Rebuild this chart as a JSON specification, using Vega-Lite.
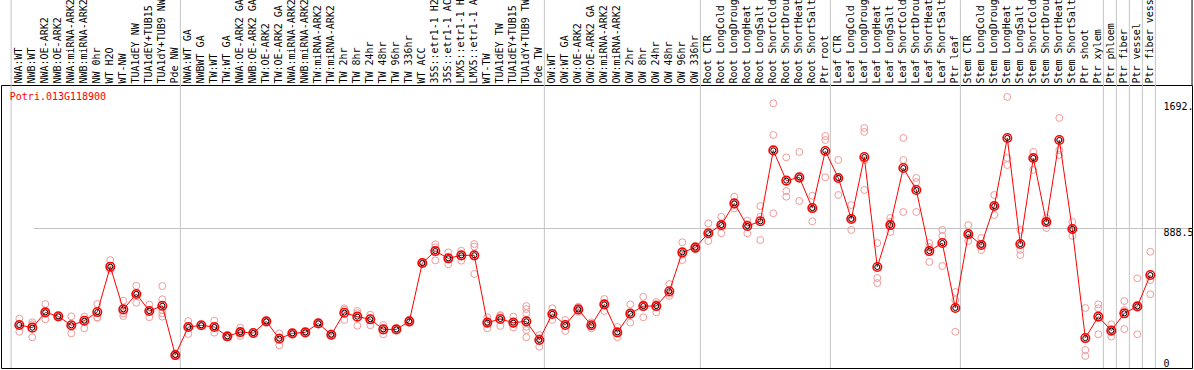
{
  "$schema": "https://vega.github.io/schema/vega-lite/v6.json",
  "width": 1191,
  "height": 283,
  "autosize": {"type": "none"},
  "padding": {"left": 1, "top": 85, "right": 2, "bottom": 2},
  "background": "white",
  "config": {"view": {"stroke": "black", "strokeWidth": 1}, "font": "DejaVu Sans Mono"},
  "datasets": {
    "cats": [{"c": "NWA:WT"}],
    "last": [{"c": "Ptr fiber vessel"}],
    "seps": [{"c": "Pde NW"}, {"c": "Pde TW"}, {"c": "OW 336hr"}, {"c": "Ptr root"}, {"c": "Ptr leaf"}, {"c": "Ptr xylem"}, {"c": "Ptr phloem"}, {"c": "Ptr fiber"}, {"c": "Ptr vessel"}, {"c": "Ptr fiber vessel"}],
    "means": [
      {"c": "NWA:WT", "v": 273}, {"c": "NWB:WT", "v": 256}, {"c": "NWA:OE-ARK2", "v": 353}, {"c": "NWB:OE-ARK2", "v": 328},
      {"c": "NWA:miRNA-ARK2", "v": 271}, {"c": "NWB:miRNA-ARK2", "v": 300}, {"c": "NW 0hr", "v": 355}, {"c": "WT H2O", "v": 643},
      {"c": "WT-NW", "v": 372}, {"c": "TUA1dEY NW", "v": 470}, {"c": "TUA1dEY+TUB15 NW", "v": 362}, {"c": "TUA1dY+TUB9 NW", "v": 395},
      {"c": "Pde NW", "v": 82}, {"c": "NWA:WT GA", "v": 260}, {"c": "NWBWT GA", "v": 271}, {"c": "TW:WT", "v": 260},
      {"c": "TW:WT GA", "v": 201}, {"c": "NWA:OE-ARK2 GA", "v": 228}, {"c": "NWB:OE-ARK2 GA", "v": 222}, {"c": "TW:OE-ARK2", "v": 296},
      {"c": "TW:OE-ARK2 GA", "v": 186}, {"c": "NWA:miRNA-ARK2 GA", "v": 220}, {"c": "NWB:miRNA-ARK2 GA", "v": 226}, {"c": "TW:miRNA-ARK2", "v": 283},
      {"c": "TW:miRNA-ARK2 GA", "v": 211}, {"c": "TW 2hr", "v": 351}, {"c": "TW 8hr", "v": 326}, {"c": "TW 24hr", "v": 309},
      {"c": "TW 48hr", "v": 245}, {"c": "TW 96hr", "v": 245}, {"c": "TW 336hr", "v": 296}, {"c": "WT ACC", "v": 666},
      {"c": "35S::etr1-1 H2O", "v": 742}, {"c": "35S::etr1-1 ACC", "v": 696}, {"c": "LMX5::etr1-1 H2O", "v": 715}, {"c": "LMX5::etr1-1 ACC", "v": 715},
      {"c": "WT-TW", "v": 288}, {"c": "TUA1dEY TW", "v": 311}, {"c": "TUA1dEY+TUB15 TW", "v": 288}, {"c": "TUA1dY+TUB9 TW", "v": 296},
      {"c": "Pde TW", "v": 178}, {"c": "OW:WT", "v": 343}, {"c": "OW:WT GA", "v": 273}, {"c": "OW:OE-ARK2", "v": 372},
      {"c": "OW:OE-ARK2 GA", "v": 271}, {"c": "OW:miRNA-ARK2", "v": 404}, {"c": "OW:miRNA-ARK2 GA", "v": 226}, {"c": "OW 2hr", "v": 345},
      {"c": "OW 8hr", "v": 393}, {"c": "OW 24hr", "v": 393}, {"c": "OW 48hr", "v": 487}, {"c": "OW 96hr", "v": 734},
      {"c": "OW 336hr", "v": 764}, {"c": "Root CTR", "v": 855}, {"c": "Root LongCold", "v": 907}, {"c": "Root LongDrought", "v": 1045},
      {"c": "Root LongHeat", "v": 901}, {"c": "Root LongSalt", "v": 931}, {"c": "Root ShortCold", "v": 1381}, {"c": "Root ShortDrought", "v": 1189},
      {"c": "Root ShortHeat", "v": 1210}, {"c": "Root ShortSalt", "v": 1015}, {"c": "Ptr root", "v": 1377}, {"c": "Leaf CTR", "v": 1206},
      {"c": "Leaf LongCold", "v": 946}, {"c": "Leaf LongDrought", "v": 1339}, {"c": "Leaf LongHeat", "v": 641}, {"c": "Leaf LongSalt", "v": 907},
      {"c": "Leaf ShortCold", "v": 1269}, {"c": "Leaf ShortDrought", "v": 1130}, {"c": "Leaf ShortHeat", "v": 742}, {"c": "Leaf ShortSalt", "v": 793},
      {"c": "Ptr leaf", "v": 381}, {"c": "Stem CTR", "v": 850}, {"c": "Stem LongCold", "v": 781}, {"c": "Stem LongDrought", "v": 1028},
      {"c": "Stem LongHeat", "v": 1460}, {"c": "Stem LongSalt", "v": 787}, {"c": "Stem ShortCold", "v": 1333}, {"c": "Stem ShortDrought", "v": 927},
      {"c": "Stem ShortHeat", "v": 1447}, {"c": "Stem ShortSalt", "v": 882}, {"c": "Ptr shoot", "v": 190}, {"c": "Ptr xylem", "v": 326},
      {"c": "Ptr phloem", "v": 237}, {"c": "Ptr fiber", "v": 347}, {"c": "Ptr vessel", "v": 391}, {"c": "Ptr fiber vessel", "v": 590}
    ],
    "reps": [
      {"c": "NWA:WT", "v": 313}, {"c": "NWA:WT", "v": 275}, {"c": "NWA:WT", "v": 230},
      {"c": "NWB:WT", "v": 290}, {"c": "NWB:WT", "v": 277}, {"c": "NWB:WT", "v": 195},
      {"c": "NWA:OE-ARK2", "v": 406}, {"c": "NWA:OE-ARK2", "v": 353}, {"c": "NWA:OE-ARK2", "v": 309},
      {"c": "NWB:OE-ARK2", "v": 332}, {"c": "NWB:OE-ARK2", "v": 325}, {"c": "NWB:OE-ARK2", "v": 328},
      {"c": "NWA:miRNA-ARK2", "v": 328}, {"c": "NWA:miRNA-ARK2", "v": 265}, {"c": "NWA:miRNA-ARK2", "v": 220},
      {"c": "NWB:miRNA-ARK2", "v": 326}, {"c": "NWB:miRNA-ARK2", "v": 305}, {"c": "NWB:miRNA-ARK2", "v": 252},
      {"c": "NW 0hr", "v": 406}, {"c": "NW 0hr", "v": 322}, {"c": "NW 0hr", "v": 318},
      {"c": "WT H2O", "v": 685}, {"c": "WT H2O", "v": 633}, {"c": "WT H2O", "v": 622},
      {"c": "WT-NW", "v": 427}, {"c": "WT-NW", "v": 347}, {"c": "WT-NW", "v": 330},
      {"c": "TUA1dEY NW", "v": 522}, {"c": "TUA1dEY NW", "v": 470}, {"c": "TUA1dEY NW", "v": 414},
      {"c": "TUA1dEY+TUB15 NW", "v": 402}, {"c": "TUA1dEY+TUB15 NW", "v": 362}, {"c": "TUA1dEY+TUB15 NW", "v": 322},
      {"c": "TUA1dY+TUB9 NW", "v": 520}, {"c": "TUA1dY+TUB9 NW", "v": 436}, {"c": "TUA1dY+TUB9 NW", "v": 368}, {"c": "TUA1dY+TUB9 NW", "v": 347}, {"c": "TUA1dY+TUB9 NW", "v": 326},
      {"c": "Pde NW", "v": 93}, {"c": "Pde NW", "v": 76}, {"c": "Pde NW", "v": 80},
      {"c": "NWA:WT GA", "v": 298}, {"c": "NWA:WT GA", "v": 260}, {"c": "NWA:WT GA", "v": 216},
      {"c": "NWBWT GA", "v": 271}, {"c": "NWBWT GA", "v": 268}, {"c": "NWBWT GA", "v": 275},
      {"c": "TW:WT", "v": 300}, {"c": "TW:WT", "v": 260}, {"c": "TW:WT", "v": 224},
      {"c": "TW:WT GA", "v": 201}, {"c": "TW:WT GA", "v": 198}, {"c": "TW:WT GA", "v": 205},
      {"c": "NWA:OE-ARK2 GA", "v": 256}, {"c": "NWA:OE-ARK2 GA", "v": 228}, {"c": "NWA:OE-ARK2 GA", "v": 203},
      {"c": "NWB:OE-ARK2 GA", "v": 222}, {"c": "NWB:OE-ARK2 GA", "v": 218}, {"c": "NWB:OE-ARK2 GA", "v": 227},
      {"c": "TW:OE-ARK2", "v": 296}, {"c": "TW:OE-ARK2", "v": 292}, {"c": "TW:OE-ARK2", "v": 300},
      {"c": "TW:OE-ARK2 GA", "v": 220}, {"c": "TW:OE-ARK2 GA", "v": 194}, {"c": "TW:OE-ARK2 GA", "v": 144},
      {"c": "NWA:miRNA-ARK2 GA", "v": 220}, {"c": "NWA:miRNA-ARK2 GA", "v": 216}, {"c": "NWA:miRNA-ARK2 GA", "v": 225},
      {"c": "NWB:miRNA-ARK2 GA", "v": 226}, {"c": "NWB:miRNA-ARK2 GA", "v": 222}, {"c": "NWB:miRNA-ARK2 GA", "v": 230},
      {"c": "TW:miRNA-ARK2", "v": 283}, {"c": "TW:miRNA-ARK2", "v": 280}, {"c": "TW:miRNA-ARK2", "v": 287},
      {"c": "TW:miRNA-ARK2 GA", "v": 220}, {"c": "TW:miRNA-ARK2 GA", "v": 211}, {"c": "TW:miRNA-ARK2 GA", "v": 203},
      {"c": "TW 2hr", "v": 379}, {"c": "TW 2hr", "v": 369}, {"c": "TW 2hr", "v": 305},
      {"c": "TW 8hr", "v": 362}, {"c": "TW 8hr", "v": 348}, {"c": "TW 8hr", "v": 268},
      {"c": "TW 24hr", "v": 338}, {"c": "TW 24hr", "v": 318}, {"c": "TW 24hr", "v": 271},
      {"c": "TW 48hr", "v": 273}, {"c": "TW 48hr", "v": 248}, {"c": "TW 48hr", "v": 214},
      {"c": "TW 96hr", "v": 245}, {"c": "TW 96hr", "v": 242}, {"c": "TW 96hr", "v": 249},
      {"c": "TW 336hr", "v": 305}, {"c": "TW 336hr", "v": 296}, {"c": "TW 336hr", "v": 287},
      {"c": "WT ACC", "v": 666}, {"c": "WT ACC", "v": 662}, {"c": "WT ACC", "v": 670},
      {"c": "35S::etr1-1 H2O", "v": 785}, {"c": "35S::etr1-1 H2O", "v": 766}, {"c": "35S::etr1-1 H2O", "v": 683},
      {"c": "35S::etr1-1 ACC", "v": 734}, {"c": "35S::etr1-1 ACC", "v": 696}, {"c": "35S::etr1-1 ACC", "v": 658},
      {"c": "LMX5::etr1-1 H2O", "v": 744}, {"c": "LMX5::etr1-1 H2O", "v": 720}, {"c": "LMX5::etr1-1 H2O", "v": 681},
      {"c": "LMX5::etr1-1 ACC", "v": 787}, {"c": "LMX5::etr1-1 ACC", "v": 770}, {"c": "LMX5::etr1-1 ACC", "v": 597},
      {"c": "WT-TW", "v": 322}, {"c": "WT-TW", "v": 290}, {"c": "WT-TW", "v": 252},
      {"c": "TUA1dEY TW", "v": 336}, {"c": "TUA1dEY TW", "v": 330}, {"c": "TUA1dEY TW", "v": 267},
      {"c": "TUA1dEY+TUB15 TW", "v": 326}, {"c": "TUA1dEY+TUB15 TW", "v": 280}, {"c": "TUA1dEY+TUB15 TW", "v": 258},
      {"c": "TUA1dY+TUB9 TW", "v": 393}, {"c": "TUA1dY+TUB9 TW", "v": 374}, {"c": "TUA1dY+TUB9 TW", "v": 347}, {"c": "TUA1dY+TUB9 TW", "v": 262}, {"c": "TUA1dY+TUB9 TW", "v": 241}, {"c": "TUA1dY+TUB9 TW", "v": 195},
      {"c": "Pde TW", "v": 209}, {"c": "Pde TW", "v": 190}, {"c": "Pde TW", "v": 135},
      {"c": "OW:WT", "v": 379}, {"c": "OW:WT", "v": 345}, {"c": "OW:WT", "v": 305},
      {"c": "OW:WT GA", "v": 305}, {"c": "OW:WT GA", "v": 278}, {"c": "OW:WT GA", "v": 235},
      {"c": "OW:OE-ARK2", "v": 389}, {"c": "OW:OE-ARK2", "v": 372}, {"c": "OW:OE-ARK2", "v": 357},
      {"c": "OW:OE-ARK2 GA", "v": 290}, {"c": "OW:OE-ARK2 GA", "v": 271}, {"c": "OW:OE-ARK2 GA", "v": 252},
      {"c": "OW:miRNA-ARK2", "v": 438}, {"c": "OW:miRNA-ARK2", "v": 410}, {"c": "OW:miRNA-ARK2", "v": 362},
      {"c": "OW:miRNA-ARK2 GA", "v": 260}, {"c": "OW:miRNA-ARK2 GA", "v": 223}, {"c": "OW:miRNA-ARK2 GA", "v": 195},
      {"c": "OW 2hr", "v": 404}, {"c": "OW 2hr", "v": 343}, {"c": "OW 2hr", "v": 288},
      {"c": "OW 8hr", "v": 452}, {"c": "OW 8hr", "v": 405}, {"c": "OW 8hr", "v": 322},
      {"c": "OW 24hr", "v": 419}, {"c": "OW 24hr", "v": 407}, {"c": "OW 24hr", "v": 353},
      {"c": "OW 48hr", "v": 533}, {"c": "OW 48hr", "v": 471}, {"c": "OW 48hr", "v": 457},
      {"c": "OW 96hr", "v": 798}, {"c": "OW 96hr", "v": 719}, {"c": "OW 96hr", "v": 685},
      {"c": "OW 336hr", "v": 775}, {"c": "OW 336hr", "v": 764}, {"c": "OW 336hr", "v": 753},
      {"c": "Root CTR", "v": 918}, {"c": "Root CTR", "v": 855}, {"c": "Root CTR", "v": 806},
      {"c": "Root LongCold", "v": 960}, {"c": "Root LongCold", "v": 907}, {"c": "Root LongCold", "v": 855},
      {"c": "Root LongDrought", "v": 1087}, {"c": "Root LongDrought", "v": 1035}, {"c": "Root LongDrought", "v": 1013},
      {"c": "Root LongHeat", "v": 935}, {"c": "Root LongHeat", "v": 913}, {"c": "Root LongHeat", "v": 855},
      {"c": "Root LongSalt", "v": 1028}, {"c": "Root LongSalt", "v": 960}, {"c": "Root LongSalt", "v": 812},
      {"c": "Root ShortCold", "v": 1680}, {"c": "Root ShortCold", "v": 1479}, {"c": "Root ShortCold", "v": 982},
      {"c": "Root ShortDrought", "v": 1337}, {"c": "Root ShortDrought", "v": 1123}, {"c": "Root ShortDrought", "v": 1087},
      {"c": "Root ShortHeat", "v": 1371}, {"c": "Root ShortHeat", "v": 1200}, {"c": "Root ShortHeat", "v": 1060},
      {"c": "Root ShortSalt", "v": 1093}, {"c": "Root ShortSalt", "v": 1021}, {"c": "Root ShortSalt", "v": 931},
      {"c": "Ptr root", "v": 1472}, {"c": "Ptr root", "v": 1447}, {"c": "Ptr root", "v": 1210},
      {"c": "Leaf CTR", "v": 1320}, {"c": "Leaf CTR", "v": 1206}, {"c": "Leaf CTR", "v": 1098},
      {"c": "Leaf LongCold", "v": 1034}, {"c": "Leaf LongCold", "v": 946}, {"c": "Leaf LongCold", "v": 876},
      {"c": "Leaf LongDrought", "v": 1523}, {"c": "Leaf LongDrought", "v": 1498}, {"c": "Leaf LongDrought", "v": 1320}, {"c": "Leaf LongDrought", "v": 1130},
      {"c": "Leaf LongHeat", "v": 793}, {"c": "Leaf LongHeat", "v": 571}, {"c": "Leaf LongHeat", "v": 539},
      {"c": "Leaf LongSalt", "v": 952}, {"c": "Leaf LongSalt", "v": 927}, {"c": "Leaf LongSalt", "v": 863},
      {"c": "Leaf ShortCold", "v": 1460}, {"c": "Leaf ShortCold", "v": 1320}, {"c": "Leaf ShortCold", "v": 990},
      {"c": "Leaf ShortDrought", "v": 1206}, {"c": "Leaf ShortDrought", "v": 1180}, {"c": "Leaf ShortDrought", "v": 990},
      {"c": "Leaf ShortHeat", "v": 793}, {"c": "Leaf ShortHeat", "v": 768}, {"c": "Leaf ShortHeat", "v": 673},
      {"c": "Leaf ShortSalt", "v": 876}, {"c": "Leaf ShortSalt", "v": 838}, {"c": "Leaf ShortSalt", "v": 647},
      {"c": "Ptr leaf", "v": 482}, {"c": "Ptr leaf", "v": 432}, {"c": "Ptr leaf", "v": 230},
      {"c": "Stem CTR", "v": 907}, {"c": "Stem CTR", "v": 850}, {"c": "Stem CTR", "v": 806},
      {"c": "Stem LongCold", "v": 825}, {"c": "Stem LongCold", "v": 781}, {"c": "Stem LongCold", "v": 749},
      {"c": "Stem LongDrought", "v": 1098}, {"c": "Stem LongDrought", "v": 1028}, {"c": "Stem LongDrought", "v": 971},
      {"c": "Stem LongHeat", "v": 1720}, {"c": "Stem LongHeat", "v": 1333}, {"c": "Stem LongHeat", "v": 1288},
      {"c": "Stem LongSalt", "v": 876}, {"c": "Stem LongSalt", "v": 749}, {"c": "Stem LongSalt", "v": 717},
      {"c": "Stem ShortCold", "v": 1371}, {"c": "Stem ShortCold", "v": 1333}, {"c": "Stem ShortCold", "v": 1257},
      {"c": "Stem ShortDrought", "v": 952}, {"c": "Stem ShortDrought", "v": 927}, {"c": "Stem ShortDrought", "v": 888},
      {"c": "Stem ShortHeat", "v": 1587}, {"c": "Stem ShortHeat", "v": 1383}, {"c": "Stem ShortHeat", "v": 1352},
      {"c": "Stem ShortSalt", "v": 927}, {"c": "Stem ShortSalt", "v": 882}, {"c": "Stem ShortSalt", "v": 838},
      {"c": "Ptr shoot", "v": 381}, {"c": "Ptr shoot", "v": 114}, {"c": "Ptr shoot", "v": 76},
      {"c": "Ptr xylem", "v": 404}, {"c": "Ptr xylem", "v": 379}, {"c": "Ptr xylem", "v": 214},
      {"c": "Ptr phloem", "v": 277}, {"c": "Ptr phloem", "v": 235}, {"c": "Ptr phloem", "v": 199},
      {"c": "Ptr fiber", "v": 425}, {"c": "Ptr fiber", "v": 368}, {"c": "Ptr fiber", "v": 247},
      {"c": "Ptr vessel", "v": 569}, {"c": "Ptr vessel", "v": 391}, {"c": "Ptr vessel", "v": 214},
      {"c": "Ptr fiber vessel", "v": 738}, {"c": "Ptr fiber vessel", "v": 558}, {"c": "Ptr fiber vessel", "v": 468}
    ]
  },
  "layer": [
    {
      "data": {"name": "reps"},
      "mark": {"type": "point", "shape": "circle", "filled": false, "color": "#f09a9a", "strokeWidth": 1, "size": 48, "opacity": 1},
      "encoding": {
        "x": {"field": "c", "type": "nominal", "sort": null,
          "scale": {"domain": ["NWA:WT","NWB:WT","NWA:OE-ARK2","NWB:OE-ARK2","NWA:miRNA-ARK2","NWB:miRNA-ARK2","NW 0hr","WT H2O","WT-NW","TUA1dEY NW","TUA1dEY+TUB15 NW","TUA1dY+TUB9 NW","Pde NW","NWA:WT GA","NWBWT GA","TW:WT","TW:WT GA","NWA:OE-ARK2 GA","NWB:OE-ARK2 GA","TW:OE-ARK2","TW:OE-ARK2 GA","NWA:miRNA-ARK2 GA","NWB:miRNA-ARK2 GA","TW:miRNA-ARK2","TW:miRNA-ARK2 GA","TW 2hr","TW 8hr","TW 24hr","TW 48hr","TW 96hr","TW 336hr","WT ACC","35S::etr1-1 H2O","35S::etr1-1 ACC","LMX5::etr1-1 H2O","LMX5::etr1-1 ACC","WT-TW","TUA1dEY TW","TUA1dEY+TUB15 TW","TUA1dY+TUB9 TW","Pde TW","OW:WT","OW:WT GA","OW:OE-ARK2","OW:OE-ARK2 GA","OW:miRNA-ARK2","OW:miRNA-ARK2 GA","OW 2hr","OW 8hr","OW 24hr","OW 48hr","OW 96hr","OW 336hr","Root CTR","Root LongCold","Root LongDrought","Root LongHeat","Root LongSalt","Root ShortCold","Root ShortDrought","Root ShortHeat","Root ShortSalt","Ptr root","Leaf CTR","Leaf LongCold","Leaf LongDrought","Leaf LongHeat","Leaf LongSalt","Leaf ShortCold","Leaf ShortDrought","Leaf ShortHeat","Leaf ShortSalt","Ptr leaf","Stem CTR","Stem LongCold","Stem LongDrought","Stem LongHeat","Stem LongSalt","Stem ShortCold","Stem ShortDrought","Stem ShortHeat","Stem ShortSalt","Ptr shoot","Ptr xylem","Ptr phloem","Ptr fiber","Ptr vessel","Ptr fiber vessel"], "range": [0, 1159], "paddingInner": 0, "paddingOuter": 0.5769, "align": 0.787},
          "axis": {"orient": "top", "title": null, "domain": false, "ticks": false, "tickSize": 0, "grid": false, "labelAngle": -90, "labelAlign": "left", "labelBaseline": "middle", "labelFont": "DejaVu Sans Mono", "labelFontSize": 10, "labelColor": "black", "labelPadding": 2, "labelOffset": 0, "labelOverlap": false, "labelBound": false, "labelLimit": 300, "labelExpr": "substring(datum.label, 0, 14)"}},
        "y": {"field": "v", "type": "quantitative", "scale": {"domain": [0, 1796], "nice": false, "zero": false},
          "axis": {"orient": "right", "title": null, "values": [0, 888.5, 1692], "domain": false, "ticks": false, "tickSize": 0, "grid": true, "gridColor": "#c4c4c4", "gridWidth": 1, "gridOpacity": {"condition": {"test": "datum.value == 888.5", "value": 1}, "value": 0}, "labelExpr": "datum.value == 1692 ? '1692.' : (datum.value == 888.5 ? '888.5' : '0')", "labelFont": "DejaVu Sans Mono", "labelFontSize": 10, "labelColor": "black", "labelAlign": "left", "labelBaseline": {"condition": {"test": "datum.value == 0", "value": "bottom"}, "value": "top"}, "labelPadding": 1, "offset": -30}}
      }
    },
    {
      "data": {"name": "seps"},
      "mark": {"type": "rule", "color": "#c4c4c4", "strokeWidth": 1, "clip": false},
      "encoding": {
        "x": {"field": "c", "type": "nominal", "sort": null, "bandPosition": 0.89,
          "scale": {"domain": ["NWA:WT","NWB:WT","NWA:OE-ARK2","NWB:OE-ARK2","NWA:miRNA-ARK2","NWB:miRNA-ARK2","NW 0hr","WT H2O","WT-NW","TUA1dEY NW","TUA1dEY+TUB15 NW","TUA1dY+TUB9 NW","Pde NW","NWA:WT GA","NWBWT GA","TW:WT","TW:WT GA","NWA:OE-ARK2 GA","NWB:OE-ARK2 GA","TW:OE-ARK2","TW:OE-ARK2 GA","NWA:miRNA-ARK2 GA","NWB:miRNA-ARK2 GA","TW:miRNA-ARK2","TW:miRNA-ARK2 GA","TW 2hr","TW 8hr","TW 24hr","TW 48hr","TW 96hr","TW 336hr","WT ACC","35S::etr1-1 H2O","35S::etr1-1 ACC","LMX5::etr1-1 H2O","LMX5::etr1-1 ACC","WT-TW","TUA1dEY TW","TUA1dEY+TUB15 TW","TUA1dY+TUB9 TW","Pde TW","OW:WT","OW:WT GA","OW:OE-ARK2","OW:OE-ARK2 GA","OW:miRNA-ARK2","OW:miRNA-ARK2 GA","OW 2hr","OW 8hr","OW 24hr","OW 48hr","OW 96hr","OW 336hr","Root CTR","Root LongCold","Root LongDrought","Root LongHeat","Root LongSalt","Root ShortCold","Root ShortDrought","Root ShortHeat","Root ShortSalt","Ptr root","Leaf CTR","Leaf LongCold","Leaf LongDrought","Leaf LongHeat","Leaf LongSalt","Leaf ShortCold","Leaf ShortDrought","Leaf ShortHeat","Leaf ShortSalt","Ptr leaf","Stem CTR","Stem LongCold","Stem LongDrought","Stem LongHeat","Stem LongSalt","Stem ShortCold","Stem ShortDrought","Stem ShortHeat","Stem ShortSalt","Ptr shoot","Ptr xylem","Ptr phloem","Ptr fiber","Ptr vessel","Ptr fiber vessel"], "range": [0, 1159], "paddingInner": 0, "paddingOuter": 0.5769, "align": 0.787}},
        "y": {"datum": 0, "type": "quantitative", "scale": {"domain": [0, 1796], "nice": false, "zero": false}},
        "y2": {"datum": 2335}
      }
    },
    {
      "data": {"name": "cats"},
      "mark": {"type": "rule", "color": "#c4c4c4", "strokeWidth": 1, "clip": false},
      "encoding": {
        "x": {"field": "c", "type": "nominal", "sort": null, "bandPosition": -0.13,
          "scale": {"domain": ["NWA:WT","NWB:WT","NWA:OE-ARK2","NWB:OE-ARK2","NWA:miRNA-ARK2","NWB:miRNA-ARK2","NW 0hr","WT H2O","WT-NW","TUA1dEY NW","TUA1dEY+TUB15 NW","TUA1dY+TUB9 NW","Pde NW","NWA:WT GA","NWBWT GA","TW:WT","TW:WT GA","NWA:OE-ARK2 GA","NWB:OE-ARK2 GA","TW:OE-ARK2","TW:OE-ARK2 GA","NWA:miRNA-ARK2 GA","NWB:miRNA-ARK2 GA","TW:miRNA-ARK2","TW:miRNA-ARK2 GA","TW 2hr","TW 8hr","TW 24hr","TW 48hr","TW 96hr","TW 336hr","WT ACC","35S::etr1-1 H2O","35S::etr1-1 ACC","LMX5::etr1-1 H2O","LMX5::etr1-1 ACC","WT-TW","TUA1dEY TW","TUA1dEY+TUB15 TW","TUA1dY+TUB9 TW","Pde TW","OW:WT","OW:WT GA","OW:OE-ARK2","OW:OE-ARK2 GA","OW:miRNA-ARK2","OW:miRNA-ARK2 GA","OW 2hr","OW 8hr","OW 24hr","OW 48hr","OW 96hr","OW 336hr","Root CTR","Root LongCold","Root LongDrought","Root LongHeat","Root LongSalt","Root ShortCold","Root ShortDrought","Root ShortHeat","Root ShortSalt","Ptr root","Leaf CTR","Leaf LongCold","Leaf LongDrought","Leaf LongHeat","Leaf LongSalt","Leaf ShortCold","Leaf ShortDrought","Leaf ShortHeat","Leaf ShortSalt","Ptr leaf","Stem CTR","Stem LongCold","Stem LongDrought","Stem LongHeat","Stem LongSalt","Stem ShortCold","Stem ShortDrought","Stem ShortHeat","Stem ShortSalt","Ptr shoot","Ptr xylem","Ptr phloem","Ptr fiber","Ptr vessel","Ptr fiber vessel"], "range": [0, 1159], "paddingInner": 0, "paddingOuter": 0.5769, "align": 0.787}},
        "y": {"datum": 0, "type": "quantitative", "scale": {"domain": [0, 1796], "nice": false, "zero": false}},
        "y2": {"datum": 2335}
      }
    },
    {
      "data": {"name": "last"},
      "mark": {"type": "rule", "color": "#000000", "strokeWidth": 1, "clip": false},
      "encoding": {
        "x": {"field": "c", "type": "nominal", "sort": null, "bandPosition": 3.71,
          "scale": {"domain": ["NWA:WT","NWB:WT","NWA:OE-ARK2","NWB:OE-ARK2","NWA:miRNA-ARK2","NWB:miRNA-ARK2","NW 0hr","WT H2O","WT-NW","TUA1dEY NW","TUA1dEY+TUB15 NW","TUA1dY+TUB9 NW","Pde NW","NWA:WT GA","NWBWT GA","TW:WT","TW:WT GA","NWA:OE-ARK2 GA","NWB:OE-ARK2 GA","TW:OE-ARK2","TW:OE-ARK2 GA","NWA:miRNA-ARK2 GA","NWB:miRNA-ARK2 GA","TW:miRNA-ARK2","TW:miRNA-ARK2 GA","TW 2hr","TW 8hr","TW 24hr","TW 48hr","TW 96hr","TW 336hr","WT ACC","35S::etr1-1 H2O","35S::etr1-1 ACC","LMX5::etr1-1 H2O","LMX5::etr1-1 ACC","WT-TW","TUA1dEY TW","TUA1dEY+TUB15 TW","TUA1dY+TUB9 TW","Pde TW","OW:WT","OW:WT GA","OW:OE-ARK2","OW:OE-ARK2 GA","OW:miRNA-ARK2","OW:miRNA-ARK2 GA","OW 2hr","OW 8hr","OW 24hr","OW 48hr","OW 96hr","OW 336hr","Root CTR","Root LongCold","Root LongDrought","Root LongHeat","Root LongSalt","Root ShortCold","Root ShortDrought","Root ShortHeat","Root ShortSalt","Ptr root","Leaf CTR","Leaf LongCold","Leaf LongDrought","Leaf LongHeat","Leaf LongSalt","Leaf ShortCold","Leaf ShortDrought","Leaf ShortHeat","Leaf ShortSalt","Ptr leaf","Stem CTR","Stem LongCold","Stem LongDrought","Stem LongHeat","Stem LongSalt","Stem ShortCold","Stem ShortDrought","Stem ShortHeat","Stem ShortSalt","Ptr shoot","Ptr xylem","Ptr phloem","Ptr fiber","Ptr vessel","Ptr fiber vessel"], "range": [0, 1159], "paddingInner": 0, "paddingOuter": 0.5769, "align": 0.787}},
        "y": {"datum": 1796, "type": "quantitative", "scale": {"domain": [0, 1796], "nice": false, "zero": false}},
        "y2": {"datum": 2335}
      }
    },
    {
      "data": {"name": "means"},
      "mark": {"type": "line", "color": "#ff0000", "strokeWidth": 1},
      "encoding": {
        "x": {"field": "c", "type": "nominal", "sort": null,
          "scale": {"domain": ["NWA:WT","NWB:WT","NWA:OE-ARK2","NWB:OE-ARK2","NWA:miRNA-ARK2","NWB:miRNA-ARK2","NW 0hr","WT H2O","WT-NW","TUA1dEY NW","TUA1dEY+TUB15 NW","TUA1dY+TUB9 NW","Pde NW","NWA:WT GA","NWBWT GA","TW:WT","TW:WT GA","NWA:OE-ARK2 GA","NWB:OE-ARK2 GA","TW:OE-ARK2","TW:OE-ARK2 GA","NWA:miRNA-ARK2 GA","NWB:miRNA-ARK2 GA","TW:miRNA-ARK2","TW:miRNA-ARK2 GA","TW 2hr","TW 8hr","TW 24hr","TW 48hr","TW 96hr","TW 336hr","WT ACC","35S::etr1-1 H2O","35S::etr1-1 ACC","LMX5::etr1-1 H2O","LMX5::etr1-1 ACC","WT-TW","TUA1dEY TW","TUA1dEY+TUB15 TW","TUA1dY+TUB9 TW","Pde TW","OW:WT","OW:WT GA","OW:OE-ARK2","OW:OE-ARK2 GA","OW:miRNA-ARK2","OW:miRNA-ARK2 GA","OW 2hr","OW 8hr","OW 24hr","OW 48hr","OW 96hr","OW 336hr","Root CTR","Root LongCold","Root LongDrought","Root LongHeat","Root LongSalt","Root ShortCold","Root ShortDrought","Root ShortHeat","Root ShortSalt","Ptr root","Leaf CTR","Leaf LongCold","Leaf LongDrought","Leaf LongHeat","Leaf LongSalt","Leaf ShortCold","Leaf ShortDrought","Leaf ShortHeat","Leaf ShortSalt","Ptr leaf","Stem CTR","Stem LongCold","Stem LongDrought","Stem LongHeat","Stem LongSalt","Stem ShortCold","Stem ShortDrought","Stem ShortHeat","Stem ShortSalt","Ptr shoot","Ptr xylem","Ptr phloem","Ptr fiber","Ptr vessel","Ptr fiber vessel"], "range": [0, 1159], "paddingInner": 0, "paddingOuter": 0.5769, "align": 0.787}},
        "y": {"field": "v", "type": "quantitative", "scale": {"domain": [0, 1796], "nice": false, "zero": false}}
      }
    },
    {
      "data": {"name": "means"},
      "mark": {"type": "point", "shape": "circle", "filled": false, "color": "#ff0000", "strokeWidth": 1.6, "size": 72, "opacity": 1},
      "encoding": {
        "x": {"field": "c", "type": "nominal", "sort": null,
          "scale": {"domain": ["NWA:WT","NWB:WT","NWA:OE-ARK2","NWB:OE-ARK2","NWA:miRNA-ARK2","NWB:miRNA-ARK2","NW 0hr","WT H2O","WT-NW","TUA1dEY NW","TUA1dEY+TUB15 NW","TUA1dY+TUB9 NW","Pde NW","NWA:WT GA","NWBWT GA","TW:WT","TW:WT GA","NWA:OE-ARK2 GA","NWB:OE-ARK2 GA","TW:OE-ARK2","TW:OE-ARK2 GA","NWA:miRNA-ARK2 GA","NWB:miRNA-ARK2 GA","TW:miRNA-ARK2","TW:miRNA-ARK2 GA","TW 2hr","TW 8hr","TW 24hr","TW 48hr","TW 96hr","TW 336hr","WT ACC","35S::etr1-1 H2O","35S::etr1-1 ACC","LMX5::etr1-1 H2O","LMX5::etr1-1 ACC","WT-TW","TUA1dEY TW","TUA1dEY+TUB15 TW","TUA1dY+TUB9 TW","Pde TW","OW:WT","OW:WT GA","OW:OE-ARK2","OW:OE-ARK2 GA","OW:miRNA-ARK2","OW:miRNA-ARK2 GA","OW 2hr","OW 8hr","OW 24hr","OW 48hr","OW 96hr","OW 336hr","Root CTR","Root LongCold","Root LongDrought","Root LongHeat","Root LongSalt","Root ShortCold","Root ShortDrought","Root ShortHeat","Root ShortSalt","Ptr root","Leaf CTR","Leaf LongCold","Leaf LongDrought","Leaf LongHeat","Leaf LongSalt","Leaf ShortCold","Leaf ShortDrought","Leaf ShortHeat","Leaf ShortSalt","Ptr leaf","Stem CTR","Stem LongCold","Stem LongDrought","Stem LongHeat","Stem LongSalt","Stem ShortCold","Stem ShortDrought","Stem ShortHeat","Stem ShortSalt","Ptr shoot","Ptr xylem","Ptr phloem","Ptr fiber","Ptr vessel","Ptr fiber vessel"], "range": [0, 1159], "paddingInner": 0, "paddingOuter": 0.5769, "align": 0.787}},
        "y": {"field": "v", "type": "quantitative", "scale": {"domain": [0, 1796], "nice": false, "zero": false}}
      }
    },
    {
      "data": {"name": "means"},
      "mark": {"type": "point", "shape": "circle", "filled": false, "color": "#000000", "strokeWidth": 1, "size": 26, "opacity": 1},
      "encoding": {
        "x": {"field": "c", "type": "nominal", "sort": null,
          "scale": {"domain": ["NWA:WT","NWB:WT","NWA:OE-ARK2","NWB:OE-ARK2","NWA:miRNA-ARK2","NWB:miRNA-ARK2","NW 0hr","WT H2O","WT-NW","TUA1dEY NW","TUA1dEY+TUB15 NW","TUA1dY+TUB9 NW","Pde NW","NWA:WT GA","NWBWT GA","TW:WT","TW:WT GA","NWA:OE-ARK2 GA","NWB:OE-ARK2 GA","TW:OE-ARK2","TW:OE-ARK2 GA","NWA:miRNA-ARK2 GA","NWB:miRNA-ARK2 GA","TW:miRNA-ARK2","TW:miRNA-ARK2 GA","TW 2hr","TW 8hr","TW 24hr","TW 48hr","TW 96hr","TW 336hr","WT ACC","35S::etr1-1 H2O","35S::etr1-1 ACC","LMX5::etr1-1 H2O","LMX5::etr1-1 ACC","WT-TW","TUA1dEY TW","TUA1dEY+TUB15 TW","TUA1dY+TUB9 TW","Pde TW","OW:WT","OW:WT GA","OW:OE-ARK2","OW:OE-ARK2 GA","OW:miRNA-ARK2","OW:miRNA-ARK2 GA","OW 2hr","OW 8hr","OW 24hr","OW 48hr","OW 96hr","OW 336hr","Root CTR","Root LongCold","Root LongDrought","Root LongHeat","Root LongSalt","Root ShortCold","Root ShortDrought","Root ShortHeat","Root ShortSalt","Ptr root","Leaf CTR","Leaf LongCold","Leaf LongDrought","Leaf LongHeat","Leaf LongSalt","Leaf ShortCold","Leaf ShortDrought","Leaf ShortHeat","Leaf ShortSalt","Ptr leaf","Stem CTR","Stem LongCold","Stem LongDrought","Stem LongHeat","Stem LongSalt","Stem ShortCold","Stem ShortDrought","Stem ShortHeat","Stem ShortSalt","Ptr shoot","Ptr xylem","Ptr phloem","Ptr fiber","Ptr vessel","Ptr fiber vessel"], "range": [0, 1159], "paddingInner": 0, "paddingOuter": 0.5769, "align": 0.787}},
        "y": {"field": "v", "type": "quantitative", "scale": {"domain": [0, 1796], "nice": false, "zero": false}}
      }
    },
    {
      "data": {"name": "cats"},
      "mark": {"type": "text", "color": "#ff0000", "font": "DejaVu Sans Mono", "fontSize": 10, "align": "left", "baseline": "top", "dx": -3, "dy": 7},
      "encoding": {
        "x": {"field": "c", "type": "nominal", "sort": null, "bandPosition": 0,
          "scale": {"domain": ["NWA:WT","NWB:WT","NWA:OE-ARK2","NWB:OE-ARK2","NWA:miRNA-ARK2","NWB:miRNA-ARK2","NW 0hr","WT H2O","WT-NW","TUA1dEY NW","TUA1dEY+TUB15 NW","TUA1dY+TUB9 NW","Pde NW","NWA:WT GA","NWBWT GA","TW:WT","TW:WT GA","NWA:OE-ARK2 GA","NWB:OE-ARK2 GA","TW:OE-ARK2","TW:OE-ARK2 GA","NWA:miRNA-ARK2 GA","NWB:miRNA-ARK2 GA","TW:miRNA-ARK2","TW:miRNA-ARK2 GA","TW 2hr","TW 8hr","TW 24hr","TW 48hr","TW 96hr","TW 336hr","WT ACC","35S::etr1-1 H2O","35S::etr1-1 ACC","LMX5::etr1-1 H2O","LMX5::etr1-1 ACC","WT-TW","TUA1dEY TW","TUA1dEY+TUB15 TW","TUA1dY+TUB9 TW","Pde TW","OW:WT","OW:WT GA","OW:OE-ARK2","OW:OE-ARK2 GA","OW:miRNA-ARK2","OW:miRNA-ARK2 GA","OW 2hr","OW 8hr","OW 24hr","OW 48hr","OW 96hr","OW 336hr","Root CTR","Root LongCold","Root LongDrought","Root LongHeat","Root LongSalt","Root ShortCold","Root ShortDrought","Root ShortHeat","Root ShortSalt","Ptr root","Leaf CTR","Leaf LongCold","Leaf LongDrought","Leaf LongHeat","Leaf LongSalt","Leaf ShortCold","Leaf ShortDrought","Leaf ShortHeat","Leaf ShortSalt","Ptr leaf","Stem CTR","Stem LongCold","Stem LongDrought","Stem LongHeat","Stem LongSalt","Stem ShortCold","Stem ShortDrought","Stem ShortHeat","Stem ShortSalt","Ptr shoot","Ptr xylem","Ptr phloem","Ptr fiber","Ptr vessel","Ptr fiber vessel"], "range": [0, 1159], "paddingInner": 0, "paddingOuter": 0.5769, "align": 0.787}},
        "y": {"datum": 1796, "type": "quantitative", "scale": {"domain": [0, 1796], "nice": false, "zero": false}},
        "text": {"value": "Potri.013G118900"}
      }
    }
  ]
}
